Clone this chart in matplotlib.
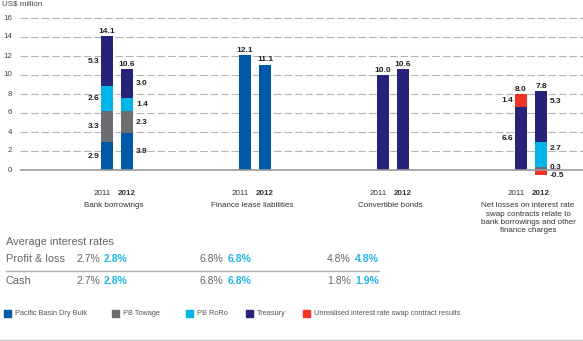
import matplotlib
matplotlib.use("Agg")
import matplotlib.pyplot as plt
from matplotlib.patches import Rectangle
from matplotlib.lines import Line2D
import numpy as np

plt.rcParams['font.family'] = ['Liberation Sans', 'DejaVu Sans']

# segment data per group, 2011 and 2012 (bottom to top)
groups = ["Bank borrowings", "Finance lease liabilities", "Convertible bonds",
          "Net losses on interest rate\nswap contracts relate to\nbank borrowings and other\nfinance charges"]
years = ["2011", "2012"]
segments = ["Pacific Basin Dry Bulk", "PB Towage", "PB RoRo", "Treasury",
            "Unrealised interest rate swap contract results"]
colors = ["#0059a8", "#6d6e71", "#00b6e9", "#27237a", "#ee3224"]

# values[group][year] = list of (segment index, value)
bank_2011 = [(0, 2.9), (1, 3.3), (2, 2.6), (3, 5.3)]
bank_2012 = [(0, 3.9), (1, 2.3), (2, 1.4), (3, 3.0)]
lease_2011 = [(0, 12.1)]
lease_2012 = [(0, 11.1)]
conv_2011 = [(3, 10.0)]
conv_2012 = [(3, 10.6)]
swap_2011 = [(3, 6.6), (4, 1.4)]
swap_2012 = [(1, 0.3), (2, 2.7), (3, 5.3), (4, -0.5)]
values = [[bank_2011, bank_2012], [lease_2011, lease_2012],
          [conv_2011, conv_2012], [swap_2011, swap_2012]]
totals = [[14.1, 10.6], [12.1, 11.1], [10.0, 10.6], [8.0, 7.8]]
show_segments = [True, False, False, True]

rate_pl = [("2.7%", "2.8%"), ("6.8%", "6.8%"), ("4.8%", "4.8%")]
rate_cash = [("2.7%", "2.8%"), ("6.8%", "6.8%"), ("1.8%", "1.9%")]

W, H = 583, 341
fig = plt.figure(figsize=(W / 100, H / 100), dpi=100)

px = 9.5  # pixels per US$ million
y0 = 170  # pixel row of zero
ylo, yhi = -1.0, 16.3
ax_w = W - 20
ax = fig.add_axes([20 / W, (H - (y0 - ylo * px)) / H, ax_w / W, (yhi - ylo) * px / H])
gap = 138.0
x0 = 117.0
ax.set_xlim((20 - x0) / gap, (W - x0) / gap)
ax.set_ylim(ylo, yhi)
for s in ax.spines.values():
    s.set_visible(False)
ax.set_xticks([])
ax.set_yticks([])

ytr = ax.get_yaxis_transform()
for v in range(0, 17, 2):
    if v:
        ax.axhline(v, color="#b5b5b5", lw=0.8, dashes=(7, 2.5), zorder=0)
    ax.text(-8 / ax_w, v, str(v), transform=ytr, ha="right",
            va="center", fontsize=5.8, color="#444444")

bw = 12 / gap
off = 10 / gap
lab_kw = dict(fontsize=6, color="#222222", fontweight="bold")
# hand nudges for crowded labels (group, year, segment order) -> shift
nudge = {(3, 1, 0): 0.1, (3, 1, 1): 0.65, (3, 1, 2): 1.55, (3, 1, 3): -0.35}

for gi, gvals in enumerate(values):
    for yi, segs in enumerate(gvals):
        xc = gi + (-off if yi == 0 else off)
        pos, neg = 0.0, 0.0
        for k, (si, v) in enumerate(segs):
            if v >= 0:
                bottom = pos
                pos += v
            else:
                bottom = neg + v
                neg += v
            ax.bar(xc, abs(v), bottom=bottom, width=bw,
                   color=colors[si], zorder=2, lw=0)
            if show_segments[gi]:
                ym = bottom + abs(v) / 2 + nudge.get((gi, yi, k), 0)
                if yi == 0:
                    ax.text(xc - bw / 2 - 2 / gap, ym, f"{v:.1f}", ha="right",
                            va="center", **lab_kw)
                else:
                    ax.text(xc + bw / 2 + 3 / gap, ym, f"{v:.1f}", ha="left",
                            va="center", **lab_kw)
        ax.text(xc, pos + 0.15, f"{totals[gi][yi]:.1f}", ha="center",
                va="bottom", **lab_kw)

ax.axhline(0, color="#999999", lw=1.2, zorder=3)

# year and group labels under the chart
for gi, name in enumerate(groups):
    gx = x0 + gi * gap
    fig.text((gx - 15) / W, 1 - 193 / H, years[0], ha="center", va="center",
             fontsize=5.8, color="#333333")
    fig.text((gx + 10) / W, 1 - 193 / H, years[1], ha="center", va="center",
             fontsize=5.8, color="#333333", fontweight="bold")
    fig.text((gx - 3) / W, 1 - 202 / H, name, ha="center", va="top", fontsize=5.8,
             color="#333333", linespacing=1.3)

fig.text(2 / W, 1 - 1 / H, "US$ million", ha="left", va="top", fontsize=5.8,
         color="#444444")

# average interest rates table
grey = "#666666"
cyan = "#1fb5e6"
fig.text(6 / W, 1 - 242 / H, "Average interest rates", ha="left", va="center",
         fontsize=7.9, color=grey)
fig.text(6 / W, 1 - 258.5 / H, "Profit & loss", ha="left", va="center",
         fontsize=7.9, color=grey)
fig.text(6 / W, 1 - 281 / H, "Cash", ha="left", va="center",
         fontsize=7.9, color=grey)
fig.add_artist(Line2D([6 / W, 379 / W], [1 - 271 / H, 1 - 271 / H],
                      color="#b0b0b0", lw=1))
col_2011 = [100, 223, 351]
col_2012 = [128, 252, 379]
for row, yy in ((rate_pl, 258.5), (rate_cash, 281)):
    for ci, (a, b) in enumerate(row):
        fig.text(col_2011[ci] / W, 1 - yy / H, a, ha="right", va="center",
                 fontsize=7.5, color=grey)
        fig.text(col_2012[ci] / W, 1 - yy / H, b, ha="right", va="center",
                 fontsize=7.5, color=cyan, fontweight="bold")

# legend
sq_x = [4, 112, 186, 246, 303]
for si, name in enumerate(segments):
    fig.add_artist(Rectangle((sq_x[si] / W, 1 - 317 / H), 7 / W, 7 / H,
                             color=colors[si], transform=fig.transFigure))
    fig.text((sq_x[si] + 11) / W, 1 - 313.5 / H, name, ha="left", va="center",
             fontsize=5.3, color="#555555")

fig.add_artist(Line2D([0, 1], [1 - 340 / H, 1 - 340 / H], color="#c8c8c8", lw=1))

fig.savefig("out.png", dpi=100)
